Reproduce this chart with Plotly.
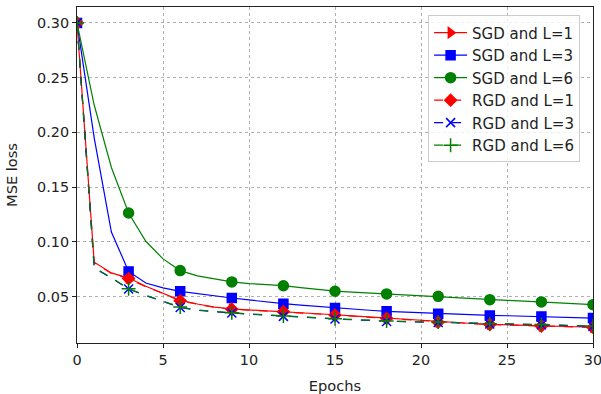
import plotly.graph_objects as go

epochs = list(range(31))

sgd_l1 = [0.300, 0.0815, 0.0717, 0.0670, 0.0595, 0.0534, 0.0466, 0.0433, 0.0405, 0.0388, 0.0380,
          0.0373, 0.0366, 0.0355, 0.0345, 0.0335, 0.0325, 0.0315, 0.0305, 0.0293, 0.0281,
          0.0269, 0.0262, 0.0255, 0.0248, 0.0243, 0.0238, 0.0233, 0.0229, 0.0225, 0.0221]
sgd_l3 = [0.300, 0.195, 0.109, 0.0731, 0.0625, 0.0580, 0.0549, 0.0527, 0.0505, 0.0488, 0.0470,
          0.0452, 0.0436, 0.0423, 0.0410, 0.0397, 0.0387, 0.0376, 0.0366, 0.0359, 0.0352,
          0.0345, 0.0340, 0.0334, 0.0329, 0.0326, 0.0323, 0.0320, 0.0315, 0.0310, 0.0305]
sgd_l6 = [0.300, 0.225, 0.168, 0.1264, 0.1006, 0.0845, 0.0738, 0.0690, 0.0662, 0.0635, 0.0620,
          0.0610, 0.0600, 0.0582, 0.0565, 0.0550, 0.0542, 0.0533, 0.0525, 0.0518, 0.0510,
          0.0503, 0.0493, 0.0483, 0.0473, 0.0466, 0.0459, 0.0452, 0.0443, 0.0435, 0.0427]
rgd_l1 = [0.300, 0.0810, 0.0712, 0.0665, 0.0590, 0.0530, 0.0462, 0.0430, 0.0402, 0.0385, 0.0377,
          0.0370, 0.0363, 0.0352, 0.0342, 0.0332, 0.0322, 0.0312, 0.0302, 0.0291, 0.0279,
          0.0267, 0.0260, 0.0253, 0.0246, 0.0241, 0.0236, 0.0231, 0.0227, 0.0223, 0.0219]
rgd_l3 = [0.300, 0.0762, 0.0671, 0.0570, 0.0510, 0.0457, 0.0402, 0.0375, 0.0360, 0.0351, 0.0340,
          0.0330, 0.0320, 0.0312, 0.0304, 0.0296, 0.0289, 0.0281, 0.0274, 0.0271, 0.0268,
          0.0265, 0.0260, 0.0255, 0.0250, 0.0248, 0.0246, 0.0244, 0.0239, 0.0234, 0.0229]
rgd_l6 = [0.300, 0.0765, 0.0674, 0.0573, 0.0513, 0.0460, 0.0405, 0.0378, 0.0363, 0.0354, 0.0343,
          0.0333, 0.0323, 0.0315, 0.0307, 0.0299, 0.0292, 0.0284, 0.0277, 0.0274, 0.0271,
          0.0268, 0.0263, 0.0258, 0.0253, 0.0251, 0.0249, 0.0247, 0.0242, 0.0237, 0.0232]

x_ticks = [0, 5, 10, 15, 20, 25, 30]
y_ticks = [0.05, 0.10, 0.15, 0.20, 0.25, 0.30]

series = [
    ("SGD and L=1", sgd_l1, "red", "solid", "triangle-right", 9),
    ("SGD and L=3", sgd_l3, "blue", "solid", "square", 9),
    ("SGD and L=6", sgd_l6, "green", "solid", "circle", 10),
    ("RGD and L=1", rgd_l1, "red", "dash", "diamond", 9),
    ("RGD and L=3", rgd_l3, "blue", "dash", "x-thin", 9),
    ("RGD and L=6", rgd_l6, "green", "dash", "cross-thin", 10),
]

fig = go.Figure()
for name, ys, color, dash, symbol, size in series:
    sizes = [size if e % 3 == 0 else 0 for e in epochs]
    fig.add_trace(go.Scatter(
        x=epochs, y=ys, name=name, mode="lines+markers", showlegend=False,
        cliponaxis=True,
        line=dict(color=color, width=1.2, dash=dash),
        marker=dict(symbol=symbol, size=sizes, color=color, opacity=1,
                    line=dict(color=color, width=1.5)),
    ))
# legend entries
for name, ys, color, dash, symbol, size in series:
    fig.add_trace(go.Scatter(
        x=[None], y=[None], name=name, mode="lines+markers",
        line=dict(color=color, width=1.2, dash=dash),
        marker=dict(symbol=symbol, size=size, color=color, opacity=1,
                    line=dict(color=color, width=1.5)),
    ))

fig.update_layout(
    width=601, height=394,
    margin=dict(l=77, r=8, t=7, b=51),
    paper_bgcolor="white", plot_bgcolor="white",
    font=dict(family="DejaVu Sans", size=14.4, color="#222222"),
    legend=dict(x=0.975, y=0.975, xanchor="right", yanchor="top",
                bgcolor="rgba(255,255,255,0.8)", bordercolor="#cccccc", borderwidth=1,
                font=dict(family="DejaVu Sans", size=15, color="#222222"),
                itemwidth=33, tracegroupgap=0),
    xaxis=dict(range=[0, 30], tickvals=x_ticks, automargin=False,
               ticklabeloverflow="allow",
               showgrid=True, gridcolor="#b0b0b0", griddash="dot", gridwidth=1,
               showline=True, linecolor="#222222", linewidth=1, mirror=True,
               ticks="outside", ticklen=4, tickcolor="#222222",
               tickfont=dict(size=14.4),
               title=dict(text="Epochs", font=dict(size=14.6)), zeroline=False),
    yaxis=dict(range=[0.0077, 0.3145], tickvals=y_ticks,
               tickformat=".2f", automargin=False, ticklabeloverflow="allow",
               showgrid=True, gridcolor="#b0b0b0", griddash="dot", gridwidth=1,
               showline=True, linecolor="#222222", linewidth=1, mirror=True,
               ticks="outside", ticklen=4, tickcolor="#222222",
               tickfont=dict(size=14.4),
               title=dict(text="MSE loss", font=dict(size=14.6)), zeroline=False),
)

fig.write_html("out.html", config={"displayModeBar": False},
               post_script="document.body.style.margin='0';document.body.style.overflow='hidden';")
